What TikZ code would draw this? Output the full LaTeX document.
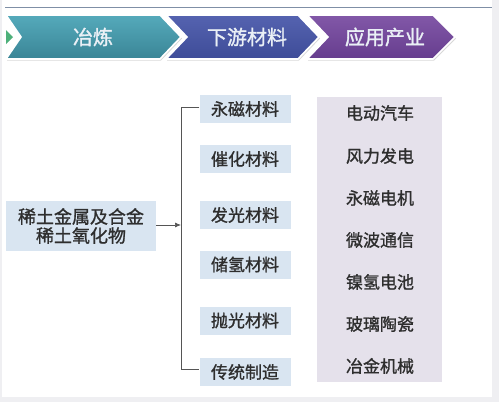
\documentclass[tikz,border=0pt]{standalone}
\usepackage{fontspec}
\newfontfamily\cjk[FakeBold=1.2]{Noto Sans CJK SC}
\newfontfamily\cjkh[FakeBold=1.5]{Noto Sans CJK SC}
\usetikzlibrary{arrows.meta,shadows}
\definecolor{bgout}{HTML}{EFEFF2}
\definecolor{topline}{HTML}{7F8FA6}
\definecolor{tealT}{HTML}{55AABB}
\definecolor{tealB}{HTML}{3A8596}
\definecolor{blueT}{HTML}{5563B0}
\definecolor{blueB}{HTML}{3E4C98}
\definecolor{purT}{HTML}{8258A8}
\definecolor{purB}{HTML}{663D8E}
\definecolor{boxblue}{HTML}{D9E5F1}
\definecolor{panel}{HTML}{E5E1EB}
\definecolor{txt}{HTML}{2E2E2E}
\definecolor{chevtxt}{HTML}{EAF0F6}
\definecolor{greentri}{HTML}{4DB07A}
\definecolor{linegrey}{HTML}{555555}
\tikzset{
  chev/.style={draw=white, line width=1.6pt, line join=miter,
    drop shadow={shadow xshift=1pt, shadow yshift=-1.5pt, opacity=0.3}},
  chevlabel/.style={font=\cjkh\fontsize{20}{22}\selectfont, text=chevtxt},
  matbox/.style={fill=boxblue, minimum width=91pt, minimum height=28pt, inner sep=0pt,
    font=\cjk\fontsize{17}{19}\selectfont, text=txt},
  apptext/.style={font=\cjk\fontsize{17}{19}\selectfont, text=txt, inner sep=0pt},
  conn/.style={draw=linegrey, line width=0.7pt}
}
\begin{document}
\begin{tikzpicture}[x=1pt,y=-1pt]
\useasboundingbox (0,0) rectangle (499,402);
\fill[bgout] (0,0) rectangle (499,402);
\fill[white] (2,0) rectangle (492,397);
% top line
\draw[topline, line width=1pt] (5,7) -- (492,7);
% chevrons
\shade[chev, top color=tealT, bottom color=tealB]
  (6,15) -- (160,15) -- (181,37) -- (160,59) -- (6,59) -- (21,37) -- cycle;
\fill[greentri] (6,30) -- (13,37) -- (6,44) -- cycle;
\shade[chev, top color=blueT, bottom color=blueB]
  (166,15) -- (298,15) -- (319,37) -- (298,59) -- (166,59) -- (187,37) -- cycle;
\shade[chev, top color=purT, bottom color=purB]
  (307,15) -- (433,15) -- (455,37) -- (433,59) -- (307,59) -- (328,37) -- cycle;
\node[chevlabel] (c1) at (93,37) {冶炼};
\node[chevlabel] (c2) at (247,37) {下游材料};
\node[chevlabel] (c3) at (385,37) {应用产业};
% left box
\node[fill=boxblue, minimum width=150pt, minimum height=50pt, inner sep=0pt,
      align=center, font=\cjk\fontsize{18}{19}\selectfont, text=txt] (src) at (81,226)
      {稀土金属及合金\\稀土氧化物};
% material boxes
\node[matbox] (m1) at (245,109) {永磁材料};
\node[matbox] (m2) at (245,159) {催化材料};
\node[matbox] (m3) at (245,215) {发光材料};
\node[matbox] (m4) at (245,264.5) {储氢材料};
\node[matbox] (m5) at (245,320.5) {抛光材料};
\node[matbox] (m6) at (245,372) {传统制造};
% bracket
\coordinate (vt) at (181,107);
\coordinate (vb) at (181,369);
\coordinate (va) at (181,225);
\draw[conn] (m1.west |- vt) -- (vt) -- (vb) -- (m6.west |- vb);
\draw[conn, -{Latex[length=6pt,width=5pt]}] (src.east |- va) -- (va);
% application panel
\fill[panel] (317,97) rectangle (442,382);
\node[apptext] (a1) at (380,113) {电动汽车};
\node[apptext] (a2) at (380,156) {风力发电};
\node[apptext] (a3) at (380,198) {永磁电机};
\node[apptext] (a4) at (380,240) {微波通信};
\node[apptext] (a5) at (380,282) {镍氢电池};
\node[apptext] (a6) at (380,324) {玻璃陶瓷};
\node[apptext] (a7) at (380,366) {冶金机械};
\end{tikzpicture}
\end{document}
